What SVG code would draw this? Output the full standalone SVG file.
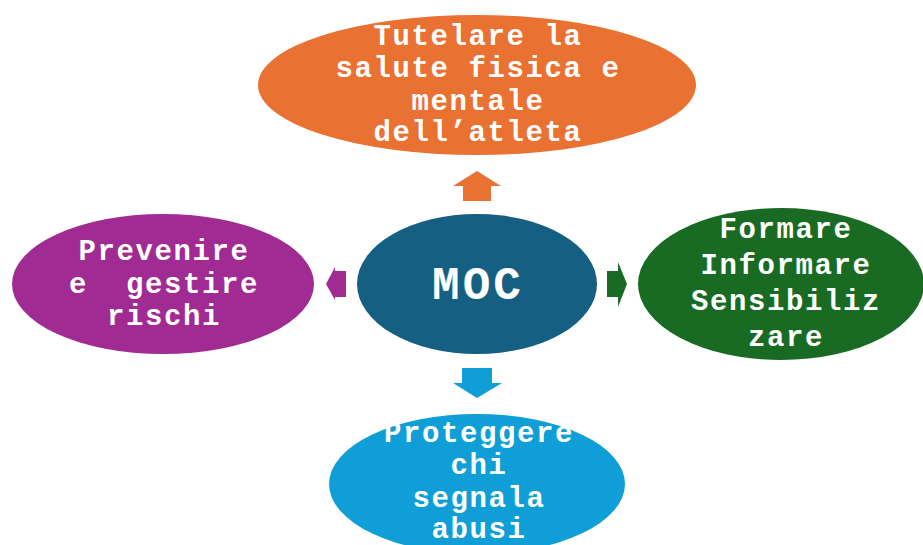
<svg xmlns="http://www.w3.org/2000/svg" width="923" height="545" viewBox="0 0 923 545">
<style>
.t{font-family:"Liberation Mono","Courier New",monospace;font-weight:bold;font-size:29px;letter-spacing:1.6px;fill:#fff;text-anchor:middle}
.m{font-family:"Liberation Mono","Courier New",monospace;font-weight:bold;font-size:46px;letter-spacing:3px;fill:#fff;text-anchor:middle}
</style>
<rect width="923" height="545" fill="#fff"/>
<g id="connectors">
<polygon fill="#E97132" points="477,171 501,186 491,186 491,201 463,201 463,186 453,186"/>
<polygon fill="#A02B93" points="326,284 335,267 335,271 346,271 346,297 335,297 335,300"/>
<polygon fill="#196B24" points="627,284 618,262 618,271 607,271 607,297 618,297 618,307"/>
<polygon fill="#0F9ED5" points="477,398 502,383 492,383 492,368 462,368 462,383 453,383"/>
</g>
<g id="node-top">
<ellipse cx="477" cy="85" rx="219" ry="70" fill="#E97132"/>
<text class="t" x="478" y="45">Tutelare la</text>
<text class="t" x="478" y="77">salute fisica e</text>
<text class="t" x="478" y="110">mentale</text>
<text class="t" x="478" y="141">dell’atleta</text>
</g>
<g id="node-left">
<ellipse cx="163" cy="284" rx="151" ry="70" fill="#A02B93"/>
<text class="t" x="164" y="260">Prevenire</text>
<text class="t" x="164" y="293" xml:space="preserve">e  gestire</text>
<text class="t" x="164" y="325">rischi</text>
</g>
<g id="node-center">
<ellipse cx="477" cy="284" rx="120" ry="70" fill="#156082"/>
<text class="m" x="478" y="299">MOC</text>
</g>
<g id="node-right">
<ellipse cx="781" cy="284" rx="143" ry="76" fill="#196B24"/>
<text class="t" x="786" y="238">Formare</text>
<text class="t" x="786" y="274">Informare</text>
<text class="t" x="786" y="310">Sensibiliz</text>
<text class="t" x="786" y="346">zare</text>
</g>
<g id="node-bottom">
<ellipse cx="477" cy="484" rx="148" ry="70" fill="#0F9ED5"/>
<text class="t" x="479" y="442">Proteggere</text>
<text class="t" x="479" y="474">chi</text>
<text class="t" x="479" y="507">segnala</text>
<text class="t" x="479" y="538">abusi</text>
</g>
</svg>
